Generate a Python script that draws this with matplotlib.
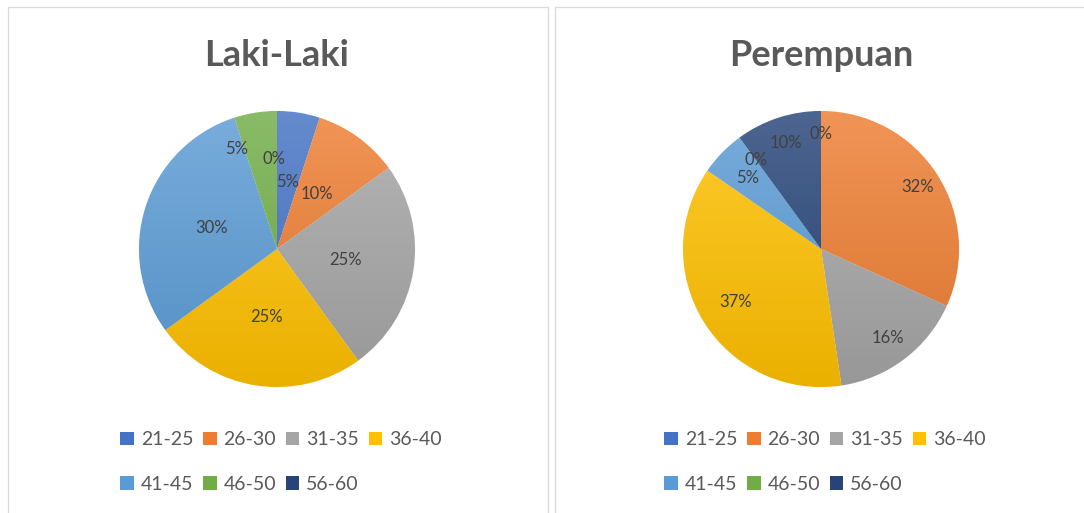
import numpy as np
import matplotlib
matplotlib.use('Agg')
import matplotlib.pyplot as plt
from matplotlib.patches import Rectangle, Patch
from matplotlib.colors import to_rgb, LinearSegmentedColormap

plt.rcParams['font.family'] = ['Lato', 'DejaVu Sans']

# data (percent of respondents per age group)
age_groups = ['21-25', '26-30', '31-35', '36-40', '41-45', '46-50', '56-60']
laki_pct = [5, 10, 25, 25, 30, 5, 0]
perempuan_pct = [0, 31.6, 15.8, 36.8, 5.3, 0, 10.0]
titles = ['Laki-Laki', 'Perempuan']

colors = ['#4472C4', '#ED7D31', '#A5A5A5', '#FFC000', '#5B9BD5', '#70AD47', '#264478']

# label placement (fraction of radius, angle tweak in degrees)
laki_label_r = [0.49, 0.49, 0.5, 0.5, 0.5, 0.78, 0.65]
laki_label_da = [0, 0, 0, 0, 0, 13, 2]
perempuan_label_r = [0.83, 0.83, 0.81, 0.73, 0.74, 0.8, 0.81]
perempuan_label_da = [0, 0, 0, 0, 0, 0, 0]

W, H = 1084, 513
fig = plt.figure(figsize=(W / 100, H / 100), dpi=100)
fig.patch.set_facecolor('white')

# chart frames
fig.patches.append(Rectangle((7.5 / W, -0.1), 540.5 / W, 1.1 - 7.5 / H, transform=fig.transFigure,
                             fill=False, edgecolor='#D9D9D9', lw=0.9))
fig.patches.append(Rectangle((554.5 / W, -0.1), 0.6, 1.1 - 7.5 / H, transform=fig.transFigure,
                             fill=False, edgecolor='#D9D9D9', lw=0.9))


def gradient_cmap(c):
    rgb = np.array(to_rgb(c))
    top = rgb + (1 - rgb) * 0.18
    bottom = rgb * 0.92
    return LinearSegmentedColormap.from_list('g', [bottom, top])


def draw_pie(cx, cy, r, values, title, label_r, label_da):
    ax = fig.add_axes([(cx - r) / W, (H - cy - r) / H, 2 * r / W, 2 * r / H])
    wedges, _ = ax.pie(values, colors=colors, startangle=90, counterclock=False,
                       wedgeprops=dict(linewidth=0.6, edgecolor='white'))
    grad = np.linspace(0, 1, 256).reshape(-1, 1)
    for i, w in enumerate(wedges):
        im = ax.imshow(grad, extent=(-1, 1, -1, 1), origin='lower', aspect='auto',
                       cmap=gradient_cmap(colors[i]), zorder=w.get_zorder() + 0.1)
        im.set_clip_path(w)
        ang = np.deg2rad((w.theta1 + w.theta2) / 2 + label_da[i])
        ax.text(label_r[i] * np.cos(ang), label_r[i] * np.sin(ang), f'{values[i]:.0f}%',
                ha='center', va='center', fontsize=12, color='#404040', zorder=10)
    ax.set_xlim(-1, 1)
    ax.set_ylim(-1, 1)
    ax.axis('off')
    fig.text(cx / W, 1 - 56 / H, title, ha='center', va='center', fontsize=26,
             fontweight='bold', color='#595959')

    handles = [Patch(facecolor=c, edgecolor='none') for c in colors]
    order = [0, 4, 1, 5, 2, 6, 3]
    fig.legend([handles[k] for k in order], [age_groups[k] for k in order],
               ncol=4, loc='center', bbox_to_anchor=((cx + 4) / W, 1 - 462 / H),
               frameon=False, fontsize=14, labelcolor='#595959',
               handlelength=0.7, handleheight=0.7, handletextpad=0.35,
               columnspacing=0.5, labelspacing=1.42, borderaxespad=0)


draw_pie(277, 249, 138, laki_pct, titles[0], laki_label_r, laki_label_da)
draw_pie(821, 249, 138, perempuan_pct, titles[1], perempuan_label_r, perempuan_label_da)

fig.savefig('out.png', dpi=100)
